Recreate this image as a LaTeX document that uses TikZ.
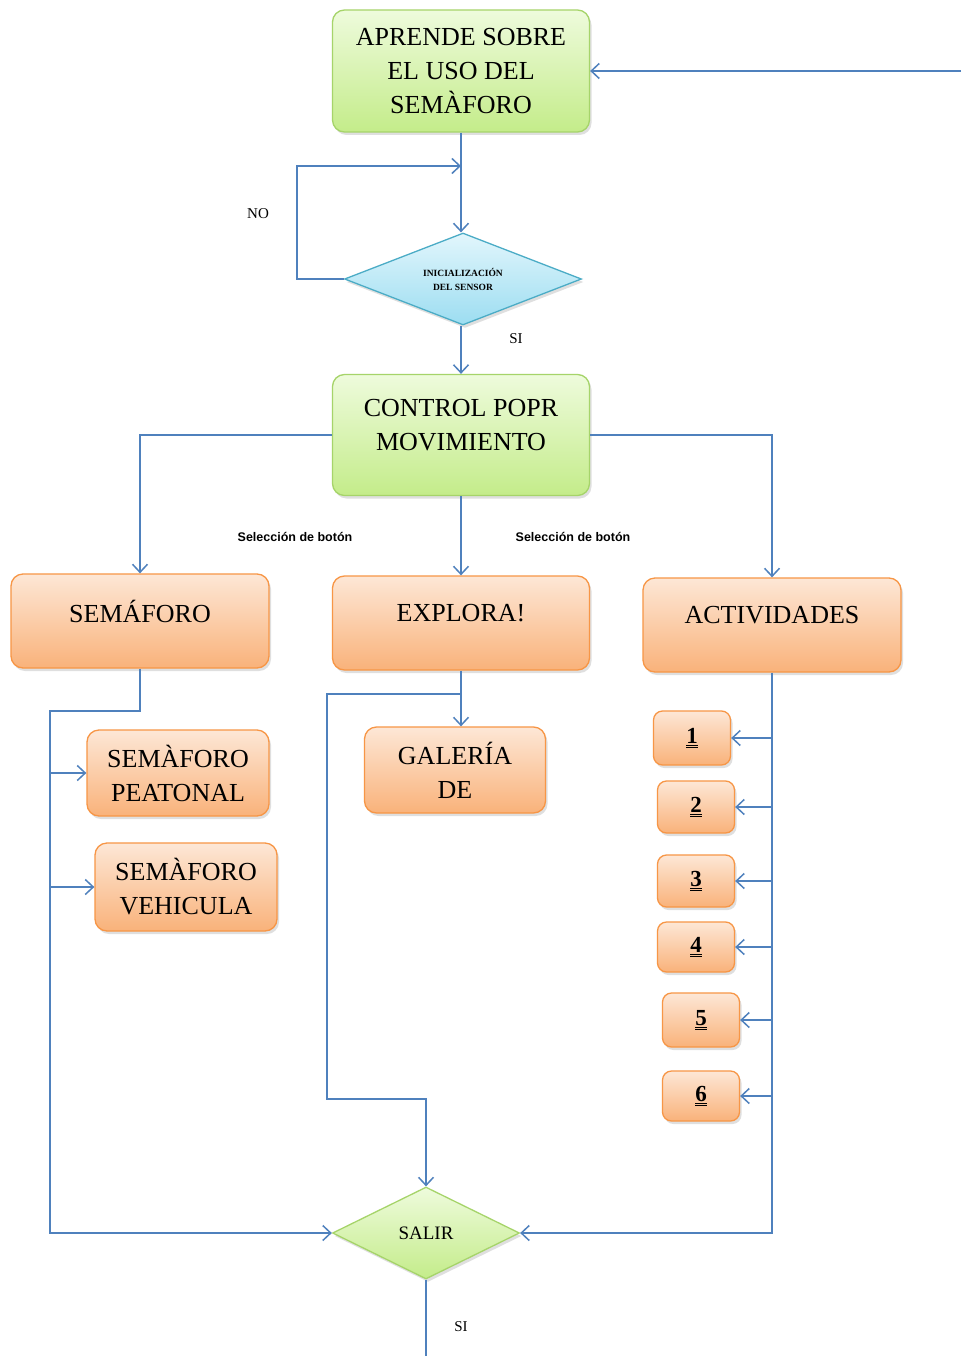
\documentclass[tikz,border=0pt]{standalone}
\usepackage{fontspec}
\setmainfont{Liberation Serif}
\newfontfamily\notefont{Liberation Sans}
\usetikzlibrary{arrows.meta,shapes.geometric,shadows}

\begin{document}
\begin{tikzpicture}[x=1pt,y=-1pt,font=\fontsize{26}{34}\selectfont,
  link/.style={draw=wire,line width=1.5pt,-{Straight Barb[length=8pt,width=15pt]}},
  plain/.style={draw=wire,line width=1.5pt},
  box/.style={rounded corners=12pt,line width=1.3pt,align=center,inner sep=2pt,
    drop shadow={opacity=.25,shadow xshift=2pt,shadow yshift=-3pt}},
  greenbox/.style={box,draw=greenline,top color=greentop,bottom color=greenbot},
  orangebox/.style={box,draw=orangeline,top color=orangetop,bottom color=orangebot},
  uptext/.style={label={[align=center,yshift=10pt]center:#1}},
  decision/.style={diamond,aspect=2.5,inner sep=0pt,line width=1.3pt,align=center,
    drop shadow={opacity=.25,shadow xshift=2pt,shadow yshift=-3pt}},
  numbox/.style={orangebox,rounded corners=9pt,font=\fontsize{23}{26}\bfseries\selectfont},
  choice/.style={font=\notefont\bfseries\fontsize{12.5}{14}\selectfont},
  answer/.style={font=\fontsize{15}{17}\selectfont}]
\definecolor{wire}{HTML}{4F81BD}
\definecolor{greenline}{HTML}{A6D46A}\definecolor{greentop}{HTML}{EEFBDC}\definecolor{greenbot}{HTML}{C4EC8A}
\definecolor{orangeline}{HTML}{F79646}\definecolor{orangetop}{HTML}{FDE7D6}\definecolor{orangebot}{HTML}{F9B27A}
\definecolor{blueline}{HTML}{4BACC6}\definecolor{bluetop}{HTML}{E2F6FC}\definecolor{bluebot}{HTML}{9CDDF1}
\useasboundingbox[fill=white] (0,0) rectangle (961,1356);
\node[greenbox,minimum width=257pt,minimum height=122pt] (learn) at (461,71) {APRENDE SOBRE\\EL USO DEL\\SEMÀFORO};
\node[decision,draw=blueline,top color=bluetop,bottom color=bluebot,minimum width=237pt,minimum height=92pt,
  font=\bfseries\fontsize{9.5}{14}\selectfont] (sensor) at (463,279) {INICIALIZACIÓN\\DEL SENSOR};
\node[greenbox,minimum width=257pt,minimum height=121pt,uptext={CONTROL POPR\\MOVIMIENTO}] (control) at (461,435) {};
\node[orangebox,minimum width=258pt,minimum height=94pt,uptext=SEMÁFORO] (sem) at (140,621) {};
\node[orangebox,minimum width=257pt,minimum height=94pt,uptext=EXPLORA!] (explore) at (461,623) {};
\node[orangebox,minimum width=258pt,minimum height=94pt,uptext=ACTIVIDADES] (acts) at (772,625) {};
\node[orangebox,minimum width=182pt,minimum height=86pt] (walk) at (178,773) {SEMÀFORO\\PEATONAL};
\node[orangebox,minimum width=182pt,minimum height=88pt] (car) at (186,887) {SEMÀFORO\\VEHICULA};
\node[orangebox,minimum width=181pt,minimum height=86pt] (gallery) at (455,770) {GALERÍA\\DE};
\node[decision,draw=greenline,top color=greentop,bottom color=greenbot,minimum width=187pt,minimum height=92pt,
  font=\fontsize{19}{22}\selectfont] (quit) at (426,1233) {SALIR};
\coordinate (feed) at (961,71);
\coordinate (retry) at (461,166);
\coordinate (leftbus) at (50,711);
\coordinate (midbus) at (461,694);
\coordinate (midturn) at (327,1099);
\coordinate (out) at (426,1356);
\draw[link] (feed) -- (learn.east);
\draw[link] (learn.south) -- (learn.south |- sensor.north);
\draw[link] (sensor.west) -- ++(-47,0) |- (retry);
\node[answer] (no) at (258,214) {NO};
\draw[link] (control.north |- sensor.south) -- (control.north);
\node[answer] (yes) at (516,339) {SI};
\draw[link] (control.west) -| (sem.north);
\draw[link] (control.east) -| (acts.north);
\draw[link] (control.south) -- (explore.north);
\node[choice] (pickleft) at (295,537) {Selección de botón};
\node[choice] (pickright) at (573,537) {Selección de botón};
\draw[link] (sem.south) |- (leftbus) |- (quit.west);
\draw[link] (leftbus |- walk.west) -- (walk.west);
\draw[link] (leftbus |- car.west) -- (car.west);
\draw[link] (explore.south) -- (explore.south |- gallery.north);
\draw[link] (midbus) -| (midturn) -| (quit.north);
\foreach \n/\x/\y/\h in {1/692/738/54,2/696/807/52,3/696/881/52,4/696/947/50,5/701/1020/54,6/701/1096/50}{
  \node[numbox,minimum width=77pt,minimum height=\h pt] (act\n) at (\x,\y) {\underline{\underline{\n}}};
  \draw[link] (acts.south |- act\n.east) -- (act\n.east);
}
\draw[link] (acts.south) |- (quit.east);
\draw[plain] (quit.south) -- (out);
\node[answer] (done) at (461,1327) {SI};
\end{tikzpicture}
\end{document}
